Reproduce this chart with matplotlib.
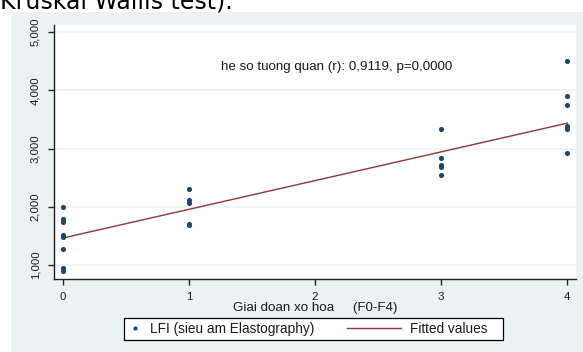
import matplotlib
matplotlib.use("Agg")
import matplotlib.pyplot as plt
from matplotlib.patches import Rectangle
from matplotlib.lines import Line2D
from matplotlib.legend_handler import HandlerLine2D

# ---- data ----
stage_f0 = [2000, 1790, 1730, 1520, 1480, 1270, 950, 900]
stage_f1 = [2300, 2110, 2070, 1710, 1680]
stage_f3 = [3340, 2840, 2720, 2680, 2545]
stage_f4 = [4500, 3900, 3740, 3380, 3340, 2920]
stages = [0, 1, 3, 4]
fit_x = [0, 4]
fit_y = [1463, 3435]
xticks = [0, 1, 2, 3, 4]
yticks = [1000, 2000, 3000, 4000, 5000]
ytick_labels = ["1,000", "2,000", "3,000", "4,000", "5,000"]
annot = "he so tuong quan (r): 0,9119, p=0,0000"
xlabel = "Giai doan xo hoa     (F0-F4)"
legend_labels = ["LFI (sieu am Elastography)", "Fitted values"]

W, H = 583, 352
fig = plt.figure(figsize=(W / 100, H / 100), dpi=100)
fig.patch.set_facecolor("white")
plt.rcParams["font.family"] = ["Liberation Sans", "DejaVu Sans"]

BG = "#EAF2F3"
NAVY = "#1A476F"
MAROON = "#90353B"
TXT = "#1a1a1a"

# panel background
fig.patches.append(Rectangle((11 / W, 0), (W - 11) / W, (H - 12) / H,
                             transform=fig.transFigure, facecolor=BG,
                             edgecolor="none", zorder=-5))
# document text above
fig.text(0 / W, 1 - 8 / H, "Kruskal Wallis test).", family="DejaVu Sans",
         fontsize=17, color="black", va="baseline", ha="left")

ax = fig.add_axes([54 / W, 1 - 279 / H, (576 - 54) / W, (279 - 25) / H])
ax.set_facecolor("white")
ax.set_xlim(-0.07, 4.07)
ax.set_ylim(760, 5120)

ax.yaxis.grid(True, color=BG, lw=1.2)
ax.set_axisbelow(True)

groups = [stage_f0, stage_f1, stage_f3, stage_f4]
for s, vals in zip(stages, groups):
    ax.plot([s] * len(vals), vals, "o", color=NAVY, ms=3.7, mew=0, zorder=3)
ax.plot(fit_x, fit_y, color=MAROON, lw=1.0, zorder=2)

for sp in ["top", "right"]:
    ax.spines[sp].set_visible(False)
for sp in ["left", "bottom"]:
    ax.spines[sp].set_color("#222222")
    ax.spines[sp].set_linewidth(1.0)

ax.set_xticks(xticks)
ax.set_xticklabels([str(t) for t in xticks])
ax.set_yticks(yticks)
ax.set_yticklabels(ytick_labels, rotation=90, va="center")
ax.tick_params(axis="both", direction="out", length=4, width=1,
               color="#222222", labelsize=8.2, labelcolor=TXT)
ax.tick_params(axis="y", pad=6)
ax.tick_params(axis="x", pad=5)

ax.set_xlabel(xlabel, fontsize=9.6, color=TXT, labelpad=0)

ax.text(2.17, 4400, annot, fontsize=9.6, color=TXT, ha="center", va="center")

LEG_FS = 9.8


class MarkerLeft(HandlerLine2D):
    def get_xdata(self, legend, xdescent, ydescent, width, height, fontsize):
        xd, xm = super().get_xdata(legend, xdescent, ydescent, width, height, fontsize)
        return xd, [-xdescent + 2.9]


class LongLine(HandlerLine2D):
    def get_xdata(self, legend, xdescent, ydescent, width, height, fontsize):
        xd, xm = super().get_xdata(legend, xdescent, ydescent, width, height, fontsize)
        right = -xdescent + width
        return [right - 38.9, right], xm


# legend frame
fig.patches.append(Rectangle((124 / W, 1 - 340 / H), (503 - 124) / W, 22 / H,
                             transform=fig.transFigure, facecolor="white",
                             edgecolor="black", lw=0.9, zorder=1))

h1 = Line2D([], [], marker="o", ls="none", color=NAVY, ms=3, mew=0)
h2 = Line2D([], [], color=MAROON, lw=1.0)
leg = fig.legend([h1, h2], legend_labels, loc="center left",
                 bbox_to_anchor=(128 / W, 1 - 329 / H), ncol=2, fontsize=LEG_FS,
                 frameon=False, borderpad=0.0, borderaxespad=0.0,
                 handlelength=1.0, columnspacing=5.39, handletextpad=0.62,
                 handler_map={h1: MarkerLeft(numpoints=1), h2: LongLine()})
leg.set_zorder(3)
for t in leg.get_texts():
    t.set_color(TXT)

fig.savefig("out.png", dpi=100, facecolor="white")
